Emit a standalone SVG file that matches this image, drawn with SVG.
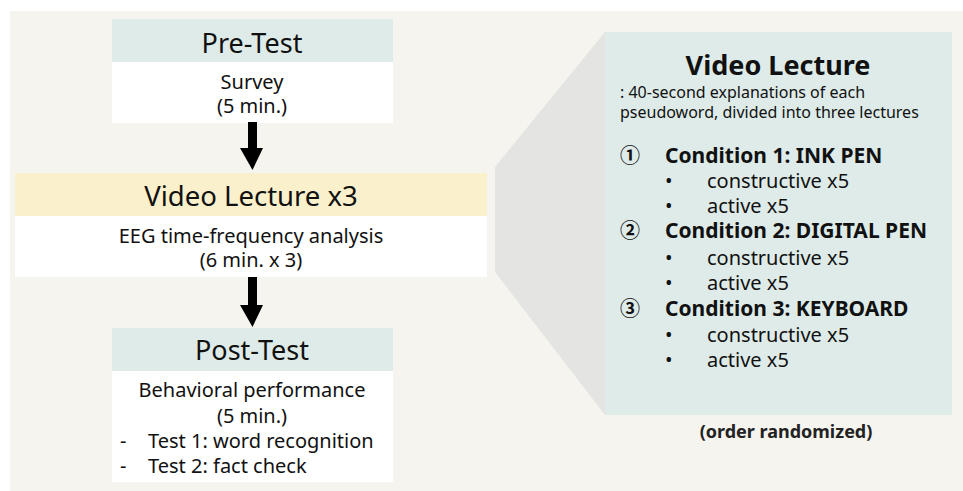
<svg xmlns="http://www.w3.org/2000/svg" width="963" height="491" viewBox="0 0 963 491">
<style>
text { font-family: "Noto Sans", "DejaVu Sans", sans-serif; fill: #111; }
.c { text-anchor: middle; }
.h1 { font-size: 27px; }
.h2 { font-size: 27.5px; }
.b { font-size: 20px; }
.r { font-size: 16px; }
.list { font-size: 20px; }
.cond { font-size: 21px; font-weight: bold; }
.num { font-family: "Noto Sans CJK KR", "DejaVu Sans", sans-serif; font-size: 20px; font-weight: bold; }
.teal { fill: #deebe8; }
.white { fill: #ffffff; }
.yellow { fill: #fbf0cc; }
</style>
<rect x="0" y="0" width="963" height="491" fill="#ffffff"/>
<rect x="10" y="11" width="953" height="480" fill="#f5f4ef"/>

<g id="callout">
<polygon points="495,167 605,32 605,415 495,272" fill="#e4e4e3"/>
</g>

<g id="pre-test">
<rect class="teal" x="112" y="19" width="281" height="43"/>
<rect class="white" x="112" y="62" width="281" height="61"/>
<text class="c h1" x="252" y="53">Pre-Test</text>
<text class="c b" x="252" y="89">Survey<tspan x="252" y="113">(5 min.)</tspan></text>
</g>

<g id="video-lecture-x3">
<rect class="yellow" x="15" y="173" width="472" height="43"/>
<rect class="white" x="15" y="216" width="472" height="61"/>
<text class="c h2" x="251" y="206">Video Lecture x3</text>
<text class="c b" x="251" y="243">EEG time-frequency analysis<tspan x="251" y="267">(6 min. x 3)</tspan></text>
</g>

<g id="post-test">
<rect class="teal" x="112" y="328" width="281" height="43"/>
<rect class="white" x="112" y="371" width="281" height="111"/>
<text class="c h1" x="252" y="360">Post-Test</text>
<text class="b" x="252" y="397"><tspan class="c" x="252" y="397">Behavioral performance</tspan><tspan class="c" x="252" y="423">(5 min.)</tspan><tspan x="120" y="448">-</tspan><tspan x="148" y="448">Test 1: word recognition</tspan><tspan x="120" y="473">-</tspan><tspan x="148" y="473">Test 2: fact check</tspan></text>
</g>

<g id="video-lecture-detail">
<rect class="teal" x="605" y="32" width="347" height="383"/>
<text class="c" x="778" y="75" style="font-size:27px;font-weight:bold">Video Lecture</text>
<text class="r" x="620" y="98">: 40-second explanations of each<tspan x="620" y="118">pseudoword, divided into three lectures</tspan></text>
<text class="list" x="620" y="163"><tspan class="num" x="620" y="163">①</tspan><tspan class="cond" x="665" y="163">Condition 1: INK PEN</tspan><tspan x="665" y="188">•</tspan><tspan x="707" y="188">constructive x5</tspan><tspan x="665" y="213">•</tspan><tspan x="707" y="213">active x5</tspan><tspan class="num" x="620" y="238">②</tspan><tspan class="cond" x="665" y="238">Condition 2: DIGITAL PEN</tspan><tspan x="665" y="265">•</tspan><tspan x="707" y="265">constructive x5</tspan><tspan x="665" y="290">•</tspan><tspan x="707" y="290">active x5</tspan><tspan class="num" x="620" y="316">③</tspan><tspan class="cond" x="665" y="316">Condition 3: KEYBOARD</tspan><tspan x="665" y="342">•</tspan><tspan x="707" y="342">constructive x5</tspan><tspan x="665" y="367">•</tspan><tspan x="707" y="367">active x5</tspan></text>
</g>

<g id="order-note">
<text class="c" x="786" y="438" style="font-size:18px;font-weight:bold;fill:#222">(order randomized)</text>
</g>

<g id="connectors" fill="#000">
<polygon points="248,122 257,122 257,148 263,148 252.5,170 240,148 248,148"/>
<polygon points="248,277 257,277 257,305 263,305 252.5,327 240,305 248,305"/>
</g>
</svg>
